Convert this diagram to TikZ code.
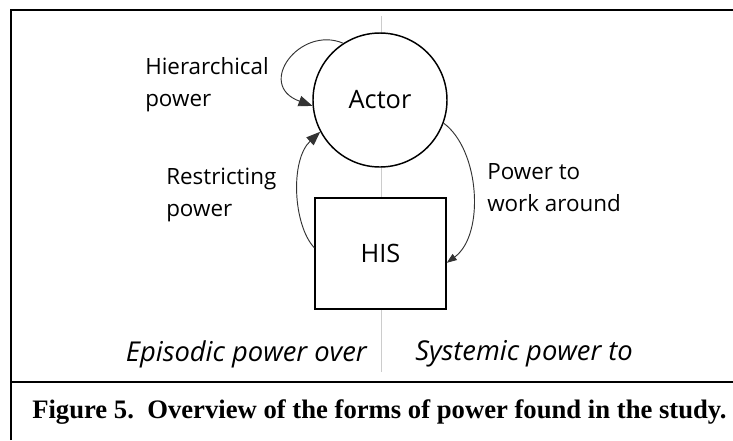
\documentclass[tikz,border=0pt]{standalone}
\usepackage{fontspec}
\setmainfont{Open Sans}
\newfontfamily\capfont{Liberation Serif}
\usetikzlibrary{arrows.meta}

\begin{document}
\begin{tikzpicture}[x=0.75pt,y=-0.75pt,
	lbl/.style={font=\fontsize{16.8}{24}\selectfont, inner sep=0, align=left},
	side/.style={font=\fontsize{20.5}{24}\selectfont\itshape, inner sep=0},
	big/.style={font=\fontsize{19}{24}\selectfont},
	flow/.style={draw=black!80, line width=0.7pt},
	bighead/.style={-{Triangle[length=10.5pt,width=8pt]}},
	smallhead/.style={-{Triangle[length=7.5pt,width=5.5pt]}}]
\useasboundingbox (0,0) rectangle (733,440);

\draw[black!20, line width=0.75pt] (381,16)--(381,372);
\draw[line width=1.5pt] (11,440)--(11,10)--(733,10);
\draw[line width=1.5pt] (11,382)--(733,382);

\node[circle, draw, fill=white, line width=1.1pt, minimum size=100.5pt, inner sep=0, big] (actor) at (380,100) {Actor};
\node[rectangle, draw, fill=white, line width=1.1pt, minimum width=98.25pt, minimum height=83.25pt, inner sep=0, big] (his) at (380.5,253.5) {HIS};

\draw[flow, bighead] (actor.123) .. controls (300,25) and (255,85) .. (actor.185);
\draw[flow, bighead] (his.175) .. controls (293,225) and (290,160) .. (actor.208);
\draw[flow, smallhead] (actor.340) .. controls (480,150) and (485,235) .. (his.352);

\node[lbl, anchor=west] (hier) at (145,85) {Hierarchical\\power};
\node[lbl, anchor=west] (restr) at (166,195) {Restricting\\power};
\node[lbl, anchor=west] (around) at (487,188) {Power to\\work around};
\node[side, anchor=east] (over) at (367,354) {Episodic power over};
\node[side, anchor=west] (to) at (415,354) {Systemic power to};

\node[anchor=west, inner sep=0, font=\capfont\fontsize{20}{24}\selectfont\bfseries] (caption) at (32,412) {Figure 5.\ \ Overview of the forms of power found in the study.};
\end{tikzpicture}
\end{document}
